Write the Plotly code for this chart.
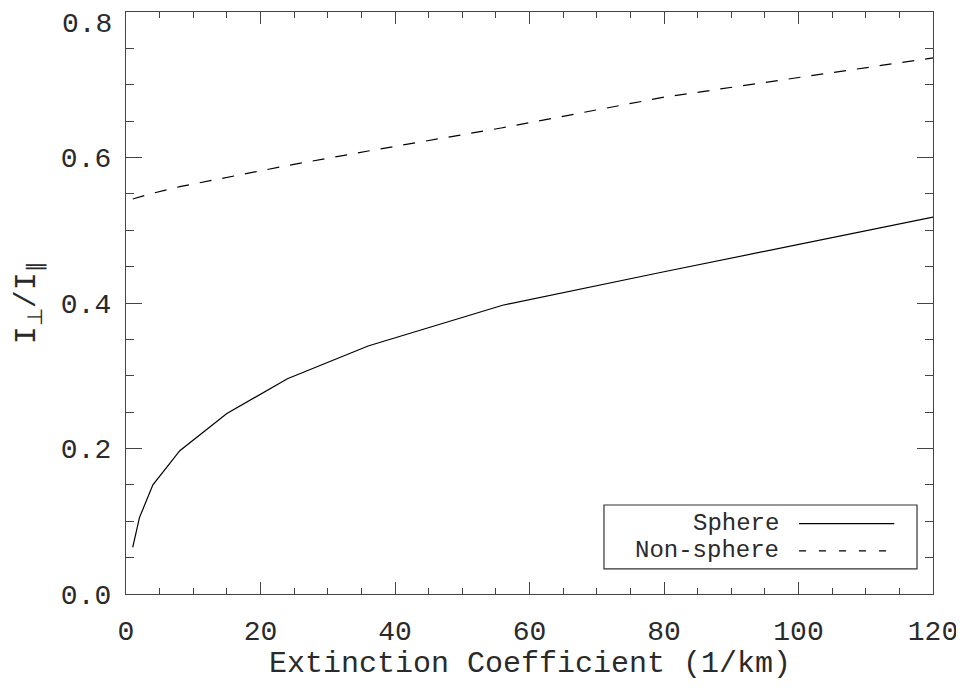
import plotly.graph_objects as go

# Data
ext_coeff = [1, 2, 4, 8, 15, 24, 36, 56, 80, 120]
ratio_sphere = [0.064, 0.105, 0.150, 0.197, 0.248, 0.296, 0.341, 0.397, 0.443, 0.518]
ratio_nonsphere = [0.543, 0.546, 0.551, 0.560, 0.573, 0.589, 0.609, 0.641, 0.683, 0.737]

series_names = ["Sphere", "Non-sphere"]
x_tick_vals = [0, 20, 40, 60, 80, 100, 120]
y_tick_vals = [0.0, 0.2, 0.4, 0.6, 0.8]
y_tick_text = ["0.0", "0.2", "0.4", "0.6", "0.8"]
x_title = "Extinction Coefficient (1/km)"
y_title = "I<sub>⊥</sub>/I<sub>∥</sub>"

FONT = "Liberation Mono"
INK = "#2a2a2a"
AX = "#444444"

fig = go.Figure()
fig.add_trace(go.Scatter(x=ext_coeff, y=ratio_sphere, mode="lines", name=series_names[0],
                         line=dict(color="black", width=1.2), showlegend=False))
fig.add_trace(go.Scatter(x=ext_coeff, y=ratio_nonsphere, mode="lines", name=series_names[1],
                         line=dict(color="black", width=1.2, dash="12px,11px"), showlegend=False))

# the topmost y label sits at the very top edge; draw it as an annotation nudged down (as in the reference)
axis_ticktext = y_tick_text[:-1] + [""]

# the page body adds ~8px of offset, so the figure is a little smaller than the window
fig.update_layout(
    width=956, height=682,
    margin=dict(l=118, r=31, t=4, b=96),
    paper_bgcolor="white", plot_bgcolor="white",
    font=dict(family=FONT, color=INK),
    xaxis=dict(
        range=[0, 120.0001], tickvals=x_tick_vals, ticktext=[str(v) for v in x_tick_vals],
        automargin=False,
        showgrid=False, zeroline=False, showline=True, linecolor=AX, linewidth=1.3,
        mirror="ticks", ticks="inside", ticklen=12, tickwidth=1.2, tickcolor=AX,
        minor=dict(dtick=5, ticks="inside", ticklen=6, tickwidth=1, tickcolor=AX),
        tickfont=dict(family=FONT, size=28, color=INK),
        ticklabelstandoff=11,
    ),
    yaxis=dict(
        range=[0, 0.8001], tickvals=y_tick_vals, ticktext=axis_ticktext,
        automargin=False,
        showgrid=False, zeroline=False, showline=True, linecolor=AX, linewidth=1.3,
        mirror="ticks", ticks="inside", ticklen=16, tickwidth=1.2, tickcolor=AX,
        minor=dict(dtick=0.05, ticks="inside", ticklen=8, tickwidth=1, tickcolor=AX),
        tickfont=dict(family=FONT, size=28, color=INK),
        ticklabelstandoff=8,
    ),
)

fig.add_annotation(xref="paper", yref="y", x=0, y=y_tick_vals[-1], text=y_tick_text[-1],
                   showarrow=False, xanchor="right", yanchor="top", xshift=-12, yshift=5,
                   font=dict(family=FONT, size=28, color=INK))

# Axis titles
fig.add_annotation(xref="paper", yref="paper", x=0.5, y=-0.121, text=x_title, showarrow=False,
                   xanchor="center", yanchor="middle", font=dict(family=FONT, size=30, color=INK))
fig.add_annotation(xref="paper", yref="paper", x=-0.121, y=0.50, text=y_title, showarrow=False,
                   textangle=-90, xanchor="center", yanchor="middle",
                   font=dict(family=FONT, size=30, color=INK))

# IDL-style legend box: label on the left, line sample on the right
fig.add_shape(type="rect", xref="paper", yref="paper", x0=0.5923, x1=0.9802, y0=0.043, y1=0.1529,
              line=dict(color="#333", width=1.2), fillcolor="white", layer="above")
legend_rows = [(0.121, "solid"), (0.074, "7px,13px")]
for name, (yy, dash) in zip(series_names, legend_rows):
    fig.add_annotation(xref="paper", yref="paper", x=0.8116, y=yy, text=name, showarrow=False,
                       xanchor="right", yanchor="middle", font=dict(family=FONT, size=24, color=INK))
    fig.add_shape(type="line", xref="paper", yref="paper", x0=0.834, x1=0.952, y0=yy, y1=yy,
                  line=dict(color="black", width=1.2, dash=dash), layer="above")

fig.write_html("out.html")
